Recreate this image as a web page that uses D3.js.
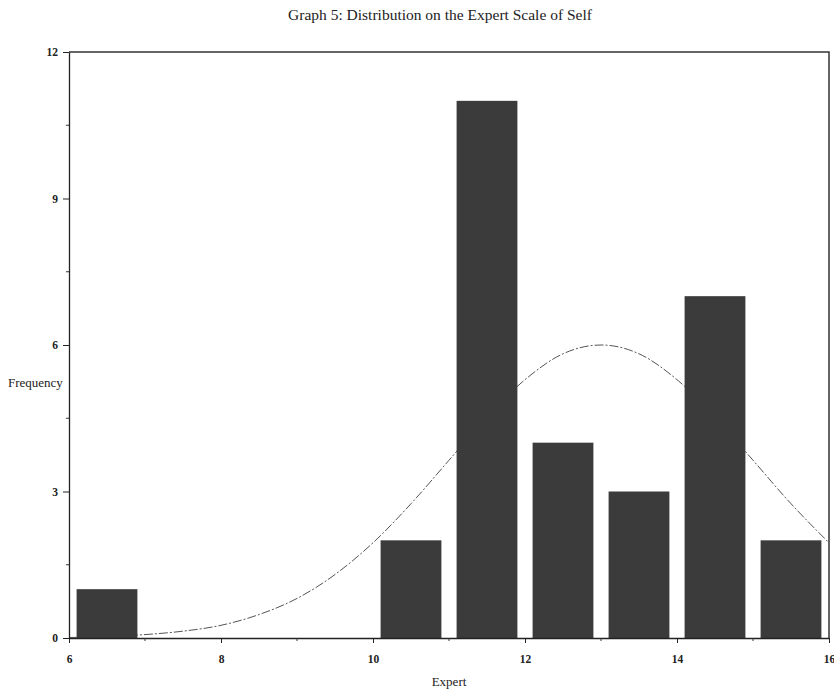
<!DOCTYPE html>
<html>
<head>
<meta charset="utf-8">
<script src="https://cdn.jsdelivr.net/npm/d3@7"></script>
<style>
  body { margin: 0; background: #fff; }
  text { font-family: "Liberation Serif", "Times New Roman", serif; fill: #222; }
</style>
</head>
<body>
<div id="chart"></div>
<script>
// histogram bins (lower edge) and counts
const binStarts = [6, 10, 11, 12, 13, 14, 15];
const counts = [1, 2, 11, 4, 3, 7, 2];
const binWidth = 1;

// fitted normal curve
const curveX = [6, 6.5, 7, 7.5, 8, 8.5, 9, 9.5, 10, 10.5, 11, 11.5, 12, 12.5, 13, 13.5, 14, 14.5, 15, 15.5, 16];
const curveY = [0.01, 0.03, 0.07, 0.14, 0.26, 0.48, 0.81, 1.30, 1.95, 2.75, 3.64, 4.53, 5.29, 5.82, 6.0, 5.82, 5.29, 4.53, 3.64, 2.75, 1.95];

const xTicks = [6, 8, 10, 12, 14, 16];
const yTicks = [0, 3, 6, 9, 12];
const xMinor = [7, 9, 11, 13, 15];
const yMinor = [1.5, 4.5, 7.5, 10.5];

const W = 834, H = 690;
const plotLeft = 69, plotRight = 829, plotTop = 52, plotBottom = 638;

const svg = d3.select('#chart').append('svg')
    .attr('width', W)
    .attr('height', H);

const x = d3.scaleLinear().domain([6, 16]).range([plotLeft, plotRight]);
const y = d3.scaleLinear().domain([0, 12]).range([plotBottom, plotTop]);

svg.append('text')
    .attr('x', 440)
    .attr('y', 20)
    .attr('text-anchor', 'middle')
    .style('font-size', '15.5px')
    .text('Graph 5: Distribution on the Expert Scale of Self');

// curve goes underneath the bars
const line = d3.line()
    .x((d, i) => x(curveX[i]))
    .y(d => y(d))
    .curve(d3.curveMonotoneX);
svg.append('path')
    .attr('d', line(curveY))
    .style('fill', 'none')
    .style('stroke', '#555')
    .style('stroke-width', 1)
    .style('stroke-dasharray', '9,2,2,2');

const barPad = 0.1;
svg.append('g').selectAll('rect')
    .data(counts)
    .enter()
    .append('rect')
    .attr('x', (d, i) => x(binStarts[i] + barPad))
    .attr('width', (d, i) => x(binStarts[i] + binWidth - barPad) - x(binStarts[i] + barPad))
    .attr('y', d => y(d))
    .attr('height', d => y(0) - y(d))
    .style('fill', '#3b3b3b');

// frame
svg.append('path')
    .attr('d', `M${plotLeft},${plotTop}H${plotRight}V${plotBottom}`)
    .style('fill', 'none')
    .style('stroke', '#333')
    .style('stroke-width', 1.5);

const yAxis = svg.append('g')
    .attr('transform', `translate(${plotLeft},0)`)
    .call(d3.axisLeft(y).tickValues(yTicks).tickSize(6).tickPadding(5).tickSizeOuter(0));
const xAxis = svg.append('g')
    .attr('transform', `translate(0,${plotBottom})`)
    .call(d3.axisBottom(x).tickValues(xTicks).tickSize(5).tickPadding(12).tickSizeOuter(0));

[xAxis, yAxis].forEach(a => {
    a.select('.domain').style('stroke', '#222').style('stroke-width', 1.3);
    a.selectAll('.tick line').style('stroke', '#222');
    a.selectAll('.tick text')
        .style('font-family', '"Liberation Serif", serif')
        .style('font-size', '11.5px')
        .style('font-weight', 'bold')
        .style('fill', '#222');
});

svg.append('g').selectAll('line')
    .data(yMinor)
    .enter()
    .append('line')
    .attr('x1', plotLeft - 3).attr('x2', plotLeft)
    .attr('y1', d => y(d)).attr('y2', d => y(d))
    .style('stroke', '#333');
svg.append('g').selectAll('line')
    .data(xMinor)
    .enter()
    .append('line')
    .attr('x1', d => x(d)).attr('x2', d => x(d))
    .attr('y1', plotBottom).attr('y2', plotBottom + 3)
    .style('stroke', '#333');

svg.append('text')
    .attr('x', 8)
    .attr('y', 387)
    .style('font-size', '13px')
    .text('Frequency');

svg.append('text')
    .attr('x', 449)
    .attr('y', 686)
    .attr('text-anchor', 'middle')
    .style('font-size', '13px')
    .text('Expert');
</script>
</body>
</html>
